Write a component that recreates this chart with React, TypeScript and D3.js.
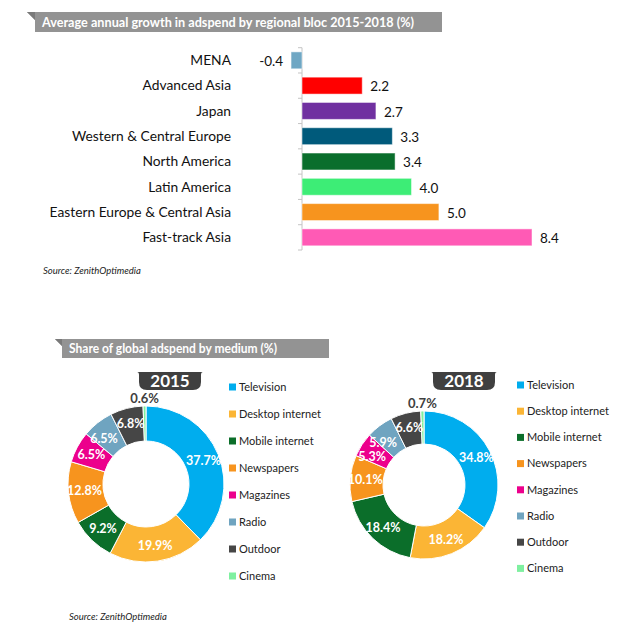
import React from "react";
import * as d3 from "d3";

// growth by regional bloc, 2015-2018 (%)
const regions = [
  "MENA",
  "Advanced Asia",
  "Japan",
  "Western & Central Europe",
  "North America",
  "Latin America",
  "Eastern Europe & Central Asia",
  "Fast-track Asia",
];
const growth = [-0.4, 2.2, 2.7, 3.3, 3.4, 4.0, 5.0, 8.4];
const regionColors = ["#6fa7c4", "#ff0000", "#7030a0", "#005a7b", "#0a6e2c", "#3ded76", "#f7941e", "#ff5ab5"];

// share of global adspend by medium (%)
const media = ["Television", "Desktop internet", "Mobile internet", "Newspapers", "Magazines", "Radio", "Outdoor", "Cinema"];
const share2015 = [37.7, 19.9, 9.2, 12.8, 6.5, 6.5, 6.8, 0.6];
const share2018 = [34.8, 18.2, 18.4, 10.1, 5.3, 5.9, 6.6, 0.7];
const mediaColors = ["#00adee", "#fbb535", "#0b6e2a", "#f7941e", "#ec008c", "#6fa4c0", "#464646", "#7ff0a0"];

const FONT = "Lato, 'Open Sans', sans-serif";
const LABEL_FS = 12.5;

function Banner({ x0, x1, y0, y1, ear, text, len }: any) {
  const pts = [
    [x0 - ear, y0],
    [x1, y0],
    [x1, y1],
    [x0, y1],
    [x0, y0 + ear],
  ];
  return (
    <g>
      <polygon points={pts.map((p) => p.join(",")).join(" ")} fill="#939393" />
      <polygon points={`${x0 - ear},${y0} ${x0},${y0} ${x0},${y0 + ear}`} fill="#7a7a7a" />
      <text
        x={x0 + 7}
        y={y1 - 5}
        fill="#fff"
        fontWeight="bold"
        fontSize={14}
        fontFamily={FONT}
        textLength={len}
        lengthAdjust="spacingAndGlyphs"
      >
        {text}
      </text>
    </g>
  );
}

function Badge({ cx, y0, text }: any) {
  const w = 62, h = 18, r = 8;
  const x0 = cx - w / 2, x1 = cx + w / 2, y1 = y0 + h;
  const d = `M${x0 - 2},${y0} L${x1 + 2},${y0} Q${x1},${y0} ${x1},${y0 + 3} L${x1},${y1 - r} Q${x1},${y1} ${x1 - r},${y1} L${x0 + r},${y1} Q${x0},${y1} ${x0},${y1 - r} L${x0},${y0 + 3} Q${x0},${y0} ${x0 - 2},${y0} Z`;
  return (
    <g>
      <path d={d} fill="#404040" />
      <text x={cx} y={y0 + 15} textAnchor="middle" fill="#fff" fontWeight="bold" fontSize={17} fontFamily={FONT}>
        {text}
      </text>
    </g>
  );
}

// place ring labels at the slice centroid, turning a label back along the
// ring when it would collide with the label of the following slice
function placeLabels(arcs: d3.PieArcDatum<number>[], r: number, texts: string[]) {
  const n = arcs.length - 1; // last slice is labelled outside
  const pos: { x: number; y: number }[] = new Array(n);
  const w = (s: string) => s.length * 0.55 * LABEL_FS;
  for (let i = n - 1; i >= 0; i--) {
    let ang = (arcs[i].startAngle + arcs[i].endAngle) / 2;
    const at = (a: number) => ({ x: Math.sin(a) * r, y: -Math.cos(a) * r });
    let p = at(ang);
    if (i < n - 1) {
      const q = pos[i + 1];
      let k = 0;
      while (
        k < 40 &&
        Math.abs(p.x - q.x) < (w(texts[i]) + w(texts[i + 1])) / 2 &&
        Math.abs(p.y - q.y) < LABEL_FS * 1.15
      ) {
        ang -= 0.005;
        p = at(ang);
        k++;
      }
    }
    pos[i] = p;
  }
  return pos;
}

function Donut({ cx, cy, outer, inner, values, year, badgeX, legendX, legendY, legendStep }: any) {
  const pie = d3.pie<number>().sort(null).value((d) => d);
  const arcs = pie(values);
  const arc = d3.arc<d3.PieArcDatum<number>>().innerRadius(inner).outerRadius(outer);
  const lr = (inner + outer) / 2 + 1.5;
  const texts = values.map((v: number) => `${v.toFixed(1)}%`);
  const pos = placeLabels(arcs, lr, texts);
  const last = arcs[arcs.length - 1];
  const lastAng = (last.startAngle + last.endAngle) / 2;
  return (
    <g>
      <Badge cx={badgeX} y0={372} text={year} />
      <g transform={`translate(${cx},${cy})`}>
        {arcs.map((a, i) => (
          <path key={i} d={arc(a) || ""} fill={mediaColors[i]} stroke="#fff" strokeWidth={1} />
        ))}
        {pos.map((p, i) => (
          <text key={i} x={p.x} y={p.y} dy="0.35em" textAnchor="middle" fill="#fff" fontWeight="bold" fontSize={LABEL_FS} fontFamily={FONT}>
            {texts[i]}
          </text>
        ))}
        <text x={Math.sin(lastAng) * outer} y={-outer - 3} textAnchor="middle" fill="#404040" fontWeight="bold" fontSize={13} fontFamily={FONT}>
          {texts[texts.length - 1]}
        </text>
      </g>
      {media.map((m, i) => (
        <g key={m} transform={`translate(${legendX},${legendY + i * legendStep})`}>
          <rect x={0} y={-3.5} width={7} height={7} fill={mediaColors[i]} />
          <text x={10} y={0} dy="0.35em" fontSize={11} fill="#222" fontFamily={FONT}>
            {m}
          </text>
        </g>
      ))}
    </g>
  );
}

export default function App() {
  const x = d3.scaleLinear().domain([0, 8.4]).range([302, 532]);
  const y = d3.scaleBand().domain(regions).range([47.7, 250]).paddingInner(0.33).paddingOuter(0.165);
  const step = y.step();

  return (
    <svg width={621} height={634} style={{ position: "absolute", left: 0, top: 0, background: "#fff" }}>
      <Banner x0={35} x1={442} y0={12} y1={32} ear={8} len={372} text="Average annual growth in adspend by regional bloc 2015-2018 (%)" />

      <line x1={x(0)} x2={x(0)} y1={47.7} y2={47.7 + step * regions.length} stroke="#c4c4c4" />
      {d3.range(regions.length + 1).map((i) => (
        <line key={i} x1={x(0) - 4} x2={x(0)} y1={47.7 + i * step} y2={47.7 + i * step} stroke="#c4c4c4" />
      ))}

      {regions.map((r, i) => {
        const v = growth[i];
        const yc = (y(r) as number) + y.bandwidth() / 2;
        return (
          <g key={r}>
            <rect
              x={Math.min(x(0), x(v))}
              y={y(r)}
              width={Math.abs(x(v) - x(0))}
              height={y.bandwidth()}
              fill={regionColors[i]}
              stroke="#fff"
              strokeOpacity={0.5}
              strokeWidth={1}
            />
            <text x={231} y={yc} dy="0.35em" textAnchor="end" fontSize={13.8} fill="#111" fontFamily={FONT}>
              {r}
            </text>
            <text
              x={v < 0 ? x(v) - 8 : x(v) + 8}
              y={yc + 1}
              dy="0.35em"
              textAnchor={v < 0 ? "end" : "start"}
              fontSize={13.5}
              fill="#111"
              fontFamily={FONT}
            >
              {v.toFixed(1)}
            </text>
          </g>
        );
      })}

      <text x={43} y={274} fontSize={9.5} fontStyle="italic" fill="#222" fontFamily={FONT}>
        Source: ZenithOptimedia
      </text>

      <Banner x0={62} x1={329} y0={339} y1={358} ear={7} len={208} text="Share of global adspend by medium (%)" />

      <Donut cx={146} cy={484} outer={78} inner={43} values={share2015} year="2015" badgeX={170} legendX={229} legendY={387} legendStep={27} />
      <Donut cx={424} cy={485} outer={74} inner={41} values={share2018} year="2018" badgeX={464} legendX={517} legendY={385} legendStep={26.2} />

      <text x={69} y={620} fontSize={9.5} fontStyle="italic" fill="#222" fontFamily={FONT}>
        Source: ZenithOptimedia
      </text>
    </svg>
  );
}
